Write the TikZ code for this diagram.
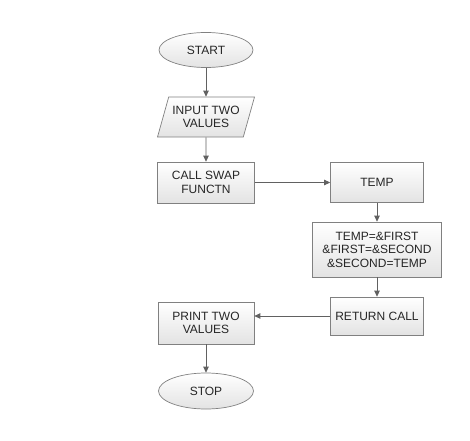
\documentclass[tikz,border=0pt]{standalone}
\usepackage{fontspec}
\setmainfont{Liberation Sans}
\usetikzlibrary{shapes.geometric,arrows.meta}
\begin{document}
\begin{tikzpicture}[x=1pt,y=1pt,
  every node/.style={font=\fontsize{12}{13.5}\selectfont, text=black!85, align=center, inner sep=0pt},
  shadesty/.style={draw=black!50, line width=0.7pt, top color=white, bottom color=black!11},
  boxsty/.style={shadesty, rectangle},
  termsty/.style={shadesty, ellipse},
  iosty/.style={shadesty, trapezium, trapezium left angle=63, trapezium right angle=117, trapezium stretches body},
  arr/.style={draw=black!62, line width=0.8pt, -{Triangle[length=6pt,width=5.5pt]}}
]
\useasboundingbox (0,0) rectangle (470,440);
\node[termsty, minimum width=94pt, minimum height=35pt] (start) at (206,390) {START};
\node[iosty, minimum width=97pt, minimum height=40pt] (input) at (206,323) {INPUT TWO\\VALUES};
\node[boxsty, minimum width=97pt, minimum height=41pt] (call) at (206,257.5) {CALL SWAP\\FUNCTN};
\node[boxsty, minimum width=93pt, minimum height=40pt] (temp) at (377,257.5) {TEMP};
\node[boxsty, minimum width=129pt, minimum height=55pt] (swap) at (377,190.5) {TEMP=\&FIRST\\\&FIRST=\&SECOND\\\&SECOND=TEMP};
\node[boxsty, minimum width=93pt, minimum height=38pt] (ret) at (377,124) {RETURN CALL};
\node[boxsty, minimum width=96pt, minimum height=42pt] (print) at (206,117) {PRINT TWO\\VALUES};
\node[termsty, minimum width=95pt, minimum height=36pt] (stop) at (206,49) {STOP};
\draw[arr] (start) -- (input);
\draw[arr] (input) -- (call);
\draw[arr] (call) -- (temp);
\draw[arr] (temp) -- (swap);
\draw[arr] (swap) -- (ret);
\draw[arr] (ret.west) -- (ret.west -| print.east);
\draw[arr] (print) -- (stop);
\end{tikzpicture}
\end{document}
